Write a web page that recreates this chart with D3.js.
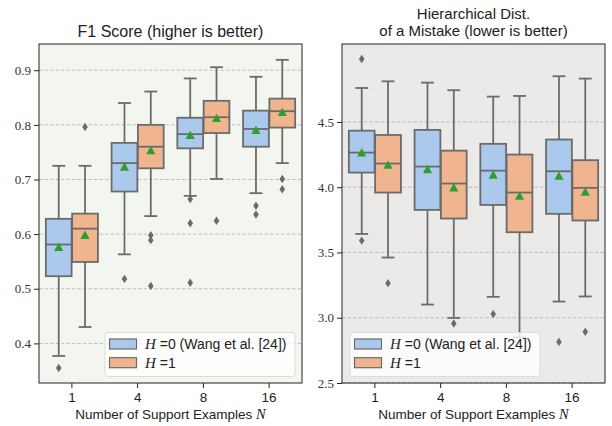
<!DOCTYPE html>
<html><head><meta charset="utf-8">
<script src="https://cdn.jsdelivr.net/npm/d3@7"></script>
<style>body{margin:0;background:#fff}svg{display:block}</style>
</head><body>
<svg id="c" width="612" height="426"></svg>
<script>
const categories = ["1","4","8","16"];
const hueLabels = ["=0 (Wang et al. [24])", "=1"];
const f1Ticks = [0.4,0.5,0.6,0.7,0.8,0.9];
const distTicks = [2.5,3.0,3.5,4.0,4.5];
// [lower whisker, q1, median, q3, upper whisker]
const f1H0Box = [[0.377,0.523,0.581,0.628,0.725],[0.563,0.678,0.730,0.767,0.840],[0.670,0.757,0.783,0.813,0.885],[0.675,0.760,0.7925,0.826,0.888]];
const f1H1Box = [[0.430,0.549,0.610,0.6375,0.725],[0.633,0.7205,0.760,0.800,0.861],[0.701,0.785,0.814,0.844,0.9055],[0.730,0.795,0.825,0.848,0.919]];
const f1H0Mean = [0.575,0.722,0.780,0.789];
const f1H1Mean = [0.597,0.752,0.811,0.822];
const f1H0Out = [[0.355],[0.518],[0.664,0.620,0.511],[0.652,0.636]];
const f1H1Out = [[0.796],[0.598,0.589,0.505],[0.6245],[0.701,0.682]];
const distH0Box = [[3.642,4.112,4.265,4.433,4.760],[3.101,3.826,4.158,4.439,4.801],[3.160,3.864,4.127,4.332,4.694],[3.124,3.796,4.122,4.365,4.850]];
const distH1Box = [[3.461,3.959,4.181,4.400,4.811],[2.999,3.760,4.028,4.280,4.743],[2.85,3.655,3.959,4.250,4.699],[3.163,3.745,3.995,4.207,4.832]];
const distH0Mean = [4.260,4.132,4.089,4.081];
const distH1Mean = [4.165,3.992,3.928,3.959];
const distH0Out = [[4.982,3.591],[],[3.028],[2.815]];
const distH1Out = [[3.265],[2.956],[],[2.892]];

const svg = d3.select("#c");
const blue = "#abc9ec", orange = "#f0b48f", edge = "#6b6b6b", green = "#2ca02c";
const sans = "'Liberation Sans', Arial, sans-serif";
const serif = "'Liberation Serif', 'DejaVu Serif', serif";

function panel(opt){
  const {x0,x1,y0,y1,domain,ticks,fmt,bg,boxes,means,outs,titleLines} = opt;
  const g = svg.append("g");
  const x = d3.scaleBand().domain(categories).range([x0,x1]).padding(0);
  const y = d3.scaleLinear().domain(domain).range([y1,y0]);
  g.append("rect").attr("x",x0).attr("y",y0).attr("width",x1-x0).attr("height",y1-y0).attr("fill",bg);
  g.selectAll(".grid").data(ticks).join("line")
    .attr("x1",x0).attr("x2",x1).attr("y1",d=>y(d)).attr("y2",d=>y(d))
    .attr("stroke","#b8b8b8").attr("stroke-width",0.9).attr("stroke-dasharray","3.5,2");
  const bw = x.bandwidth()*0.8/2;
  const inner = g.append("g");
  [0,1].forEach(h=>{
    const fill = h===0?blue:orange;
    categories.forEach((c,i)=>{
      const s = boxes[h][i];
      const cx0 = x(c)+x.bandwidth()*0.1 + h*bw;
      const cx = cx0 + bw/2;
      const w = bw*0.98;
      const bx = cx - w/2;
      inner.append("line").attr("x1",cx).attr("x2",cx).attr("y1",y(s[0])).attr("y2",y(s[1])).attr("stroke",edge).attr("stroke-width",1.8);
      inner.append("line").attr("x1",cx).attr("x2",cx).attr("y1",y(s[3])).attr("y2",y(s[4])).attr("stroke",edge).attr("stroke-width",1.8);
      inner.append("line").attr("x1",cx-w/4).attr("x2",cx+w/4).attr("y1",y(s[0])).attr("y2",y(s[0])).attr("stroke",edge).attr("stroke-width",1.8);
      inner.append("line").attr("x1",cx-w/4).attr("x2",cx+w/4).attr("y1",y(s[4])).attr("y2",y(s[4])).attr("stroke",edge).attr("stroke-width",1.8);
      inner.append("rect").attr("x",bx).attr("y",y(s[3])).attr("width",w).attr("height",y(s[1])-y(s[3]))
        .attr("fill",fill).attr("stroke",edge).attr("stroke-width",1.8);
      inner.append("line").attr("x1",bx).attr("x2",bx+w).attr("y1",y(s[2])).attr("y2",y(s[2])).attr("stroke",edge).attr("stroke-width",1.8);
      outs[h][i].forEach(v=>{
        inner.append("path").attr("transform",`translate(${cx},${y(v)})`)
          .attr("d","M0,-4.2L2.8,0L0,4.2L-2.8,0Z").attr("fill",edge);
      });
      inner.append("path").attr("transform",`translate(${cx},${y(means[h][i])})`)
        .attr("d","M0,-5.2L4.6,3.2L-4.6,3.2Z").attr("fill",green);
    });
  });
  g.append("rect").attr("x",x0).attr("y",y0).attr("width",x1-x0).attr("height",y1-y0).attr("fill","none").attr("stroke","#222").attr("stroke-width",1);
  const ya = g.append("g").attr("transform",`translate(${x0},0)`)
    .call(d3.axisLeft(y).tickValues(ticks).tickFormat(fmt).tickSize(5).tickPadding(3));
  ya.select(".domain").remove();
  ya.selectAll("line").attr("stroke","#222");
  ya.selectAll("text").attr("font-family",serif).attr("font-size",13).attr("fill","#333");
  const xa = g.append("g").attr("transform",`translate(0,${y1})`)
    .call(d3.axisBottom(x).tickSize(5).tickPadding(4));
  xa.select(".domain").remove();
  xa.selectAll("line").attr("stroke","#222");
  xa.selectAll("text").attr("font-family",sans).attr("font-size",13.5).attr("fill","#222");
  const xl = g.append("text").attr("x",(x0+x1)/2).attr("y",419).attr("text-anchor","middle")
    .attr("font-family",sans).attr("font-size",13.5).attr("fill","#222");
  xl.append("tspan").text("Number of Support Examples ");
  xl.append("tspan").attr("font-family",serif).attr("font-style","italic").attr("font-size",14.5).text("N");
  titleLines.forEach((t,k)=>{
    g.append("text").attr("x",(x0+x1)/2).attr("y",opt.titleY + k*17).attr("text-anchor","middle")
      .attr("font-family",sans).attr("font-size",opt.titleSize).attr("fill","#222").text(t);
  });
  const L = opt.legend;
  const lg = g.append("g");
  lg.append("rect").attr("x",L.x).attr("y",332.5).attr("width",L.w).attr("height",44).attr("rx",3)
    .attr("fill","#ffffff").attr("fill-opacity",0.8).attr("stroke","#dcdcdc").attr("stroke-width",1);
  hueLabels.forEach((lab,k)=>{
    const yy = 344 + k*18.7;
    lg.append("rect").attr("x",L.x+4.5).attr("y",yy-5).attr("width",27).attr("height",10)
      .attr("fill",k===0?blue:orange).attr("stroke",edge).attr("stroke-width",1.2);
    const t = lg.append("text").attr("x",L.x+40).attr("y",yy+5).attr("font-family",sans).attr("font-size",14).attr("fill","#222");
    t.append("tspan").attr("font-family",serif).attr("font-style","italic").attr("font-size",15).text("H");
    t.append("tspan").text(" "+lab);
  });
}

panel({x0:39,x1:302,y0:44,y1:383,domain:[0.3275,0.948],ticks:f1Ticks,fmt:d3.format(".1f"),bg:"#f3f6ef",
  boxes:[f1H0Box,f1H1Box],means:[f1H0Mean,f1H1Mean],outs:[f1H0Out,f1H1Out],
  titleLines:["F1 Score (higher is better)"],titleY:37,titleSize:16,legend:{x:105,w:190}});
panel({x0:342,x1:605,y0:44,y1:383,domain:[2.5,5.097],ticks:distTicks,fmt:d3.format(".1f"),bg:"#ebeae8",
  boxes:[distH0Box,distH1Box],means:[distH0Mean,distH1Mean],outs:[distH0Out,distH1Out],
  titleLines:["Hierarchical Dist.","of a Mistake (lower is better)"],titleY:18.5,titleSize:15,legend:{x:350,w:190}});
</script>
</body></html>
